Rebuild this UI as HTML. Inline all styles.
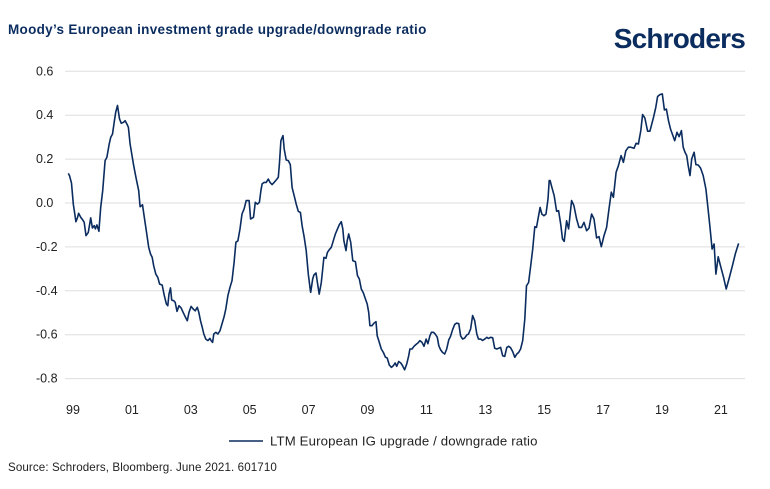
<!DOCTYPE html>
<html><head><meta charset="utf-8">
<style>
body{margin:0;background:#fff;width:770px;height:489px;overflow:hidden;font-family:"Liberation Sans",sans-serif;}
svg{display:block}
</style></head>
<body>
<svg width="770" height="489" viewBox="0 0 770 489" id="chart">
<text x="8" y="34" font-size="13.5" font-weight="bold" fill="#0b2c5f" letter-spacing="0.3">Moody’s European investment grade upgrade/downgrade ratio</text>
<text x="745" y="48" text-anchor="end" font-size="28" font-weight="bold" fill="#0b2c5f" letter-spacing="-0.8">Schroders</text>
<g id="grid"></g><g id="yt"></g><g id="xt"></g><g id="ln"></g>
<line x1="229" y1="441" x2="263" y2="441" stroke="#0b2c5f" stroke-width="1.6"/>
<text x="270" y="445.5" font-size="13.2" fill="#222" letter-spacing="0.15">LTM European IG upgrade / downgrade ratio</text>
<text x="8" y="471" font-size="11.6" fill="#222" letter-spacing="0.1">Source: Schroders, Bloomberg. June 2021. 601710</text>
</svg>
<script>
const yTicks=[0.6,0.4,0.2,0,-0.2,-0.4,-0.6,-0.8];
const yTickLabels=["0.6","0.4","0.2","0.0","-0.2","-0.4","-0.6","-0.8"];
const xTicks=[1999,2001,2003,2005,2007,2009,2011,2013,2015,2017,2019,2021];
const xTickLabels=["99","01","03","05","07","09","11","13","15","17","19","21"];
const dates=[1998.84,1998.88,1998.95,1999.01,1999.06,1999.10,1999.15,1999.19,1999.26,1999.33,1999.38,1999.44,1999.52,1999.60,1999.66,1999.72,1999.76,1999.81,1999.88,1999.94,2000.01,2000.09,2000.15,2000.23,2000.28,2000.34,2000.40,2000.45,2000.51,2000.58,2000.64,2000.72,2000.77,2000.83,2000.88,2000.94,2001.06,2001.15,2001.23,2001.28,2001.36,2001.42,2001.49,2001.57,2001.63,2001.69,2001.74,2001.81,2001.88,2001.94,2002.03,2002.10,2002.17,2002.22,2002.26,2002.31,2002.35,2002.42,2002.47,2002.53,2002.60,2002.67,2002.74,2002.81,2002.88,2002.94,2003.01,2003.08,2003.15,2003.22,2003.27,2003.33,2003.39,2003.44,2003.51,2003.58,2003.65,2003.69,2003.74,2003.78,2003.85,2003.92,2003.99,2004.06,2004.13,2004.19,2004.26,2004.33,2004.40,2004.47,2004.53,2004.60,2004.67,2004.74,2004.81,2004.88,2004.92,2004.98,2005.03,2005.13,2005.19,2005.26,2005.33,2005.38,2005.42,2005.49,2005.56,2005.63,2005.69,2005.76,2005.83,2005.90,2005.97,2006.01,2006.06,2006.13,2006.17,2006.24,2006.31,2006.38,2006.44,2006.51,2006.58,2006.65,2006.72,2006.78,2006.85,2006.92,2006.99,2007.06,
2007.07,2007.14,2007.18,2007.25,2007.30,2007.36,2007.43,2007.48,2007.52,2007.59,2007.64,2007.70,2007.77,2007.84,2007.91,2007.98,2008.04,2008.11,2008.16,2008.20,2008.27,2008.31,2008.36,2008.43,2008.50,2008.59,2008.66,2008.72,2008.79,2008.86,2008.93,2008.99,2009.04,2009.08,2009.15,2009.22,2009.29,2009.33,2009.40,2009.47,2009.54,2009.61,2009.67,2009.74,2009.81,2009.88,2009.94,2009.99,2010.06,2010.13,2010.19,2010.26,2010.33,2010.40,2010.44,2010.51,2010.58,2010.65,2010.71,2010.78,2010.85,2010.92,2010.99,2011.05,2011.12,2011.17,2011.24,2011.30,2011.37,2011.42,2011.48,2011.55,2011.62,2011.69,2011.76,2011.82,2011.89,2011.96,2012.03,2012.10,2012.16,2012.23,2012.30,2012.37,2012.43,2012.50,2012.57,2012.64,2012.71,2012.77,2012.84,2012.91,2012.98,2013.05,2013.11,2013.18,2013.25,2013.32,2013.39,2013.45,2013.52,2013.59,2013.66,2013.73,2013.79,2013.86,2013.93,2014.00,2014.07,2014.13,2014.20,2014.27,2014.34,2014.40,2014.47,2014.54,2014.61,2014.68,2014.74,2014.81,2014.86,2014.92,2014.99,2015.06,2015.13,2015.17,
2015.20,2015.26,2015.34,2015.42,2015.49,2015.56,2015.62,2015.68,2015.76,2015.83,2015.93,2016.01,2016.10,2016.18,2016.27,2016.35,2016.44,2016.52,2016.61,2016.69,2016.78,2016.86,2016.94,2017.03,2017.12,2017.20,2017.28,2017.35,2017.44,2017.52,2017.61,2017.69,2017.77,2017.86,2017.94,2018.05,2018.12,2018.20,2018.28,2018.34,2018.42,2018.51,2018.59,2018.71,2018.79,2018.85,2018.93,2019.01,2019.08,2019.15,2019.22,2019.29,2019.37,2019.43,2019.51,2019.58,2019.66,2019.72,2019.78,2019.84,2019.89,2019.95,2020.01,2020.09,2020.15,2020.23,2020.31,2020.40,2020.49,2020.56,2020.63,2020.70,2020.77,2020.83,2020.91,2021.00,2021.09,2021.18,2021.29,2021.39,2021.49,2021.60];
const ratio=[0.135,0.125,0.09,-0.005,-0.05,-0.085,-0.068,-0.047,-0.065,-0.077,-0.088,-0.149,-0.134,-0.068,-0.114,-0.103,-0.118,-0.100,-0.129,-0.020,0.056,0.193,0.208,0.269,0.299,0.314,0.368,0.413,0.444,0.383,0.363,0.368,0.375,0.360,0.345,0.269,0.170,0.109,0.056,-0.017,-0.008,-0.065,-0.126,-0.202,-0.232,-0.248,-0.286,-0.324,-0.339,-0.369,-0.374,-0.422,-0.460,-0.468,-0.415,-0.387,-0.442,-0.445,-0.453,-0.494,-0.468,-0.478,-0.498,-0.518,-0.536,-0.498,-0.471,-0.483,-0.491,-0.475,-0.498,-0.536,-0.567,-0.597,-0.620,-0.627,-0.617,-0.627,-0.635,-0.597,-0.589,-0.597,-0.582,-0.551,-0.518,-0.483,-0.422,-0.384,-0.354,-0.270,-0.179,-0.172,-0.118,-0.050,-0.027,0.011,0.011,0.011,-0.073,-0.065,0.003,-0.005,0.003,0.056,0.087,0.094,0.094,0.109,0.094,0.084,0.094,0.105,0.117,0.178,0.284,0.307,0.246,0.196,0.193,0.175,0.071,0.033,-0.005,-0.038,-0.043,-0.103,-0.156,-0.217,-0.324,-0.400,
-0.407,-0.346,-0.328,-0.319,-0.362,-0.415,-0.362,-0.301,-0.248,-0.252,-0.225,-0.213,-0.202,-0.172,-0.141,-0.118,-0.100,-0.085,-0.118,-0.172,-0.217,-0.172,-0.141,-0.179,-0.263,-0.267,-0.331,-0.346,-0.392,-0.410,-0.437,-0.460,-0.498,-0.559,-0.559,-0.547,-0.541,-0.605,-0.635,-0.665,-0.681,-0.703,-0.706,-0.738,-0.749,-0.741,-0.729,-0.744,-0.722,-0.729,-0.741,-0.760,-0.734,-0.696,-0.665,-0.665,-0.653,-0.644,-0.638,-0.627,-0.635,-0.653,-0.620,-0.641,-0.605,-0.589,-0.589,-0.597,-0.612,-0.650,-0.668,-0.681,-0.688,-0.665,-0.623,-0.608,-0.577,-0.553,-0.547,-0.550,-0.605,-0.620,-0.615,-0.602,-0.597,-0.574,-0.513,-0.536,-0.597,-0.620,-0.620,-0.626,-0.620,-0.612,-0.617,-0.612,-0.614,-0.662,-0.665,-0.662,-0.658,-0.696,-0.699,-0.658,-0.653,-0.659,-0.677,-0.703,-0.688,-0.681,-0.665,-0.627,-0.529,-0.377,-0.362,-0.286,-0.210,-0.108,-0.111,-0.058,-0.020,-0.050,-0.058,-0.050,0.018,0.102,
0.102,0.071,0.033,-0.038,-0.035,-0.096,-0.164,-0.175,-0.081,-0.118,0.011,-0.012,-0.073,-0.111,-0.111,-0.088,-0.126,-0.115,-0.050,-0.073,-0.159,-0.153,-0.199,-0.149,-0.111,-0.027,0.049,0.026,0.140,0.170,0.216,0.185,0.238,0.254,0.254,0.249,0.272,0.269,0.330,0.403,0.387,0.327,0.327,0.390,0.436,0.485,0.494,0.497,0.424,0.428,0.375,0.337,0.307,0.284,0.322,0.302,0.330,0.254,0.231,0.216,0.170,0.125,0.201,0.231,0.175,0.173,0.159,0.125,0.064,-0.020,-0.111,-0.210,-0.187,-0.324,-0.245,-0.293,-0.339,-0.392,-0.339,-0.286,-0.232,-0.184];

const NS='http://www.w3.org/2000/svg';
const xS=d=>73+(d-1999)*29.45;
const yS=v=>203-v*219.5;
function mk(tag,attrs,parent){const e=document.createElementNS(NS,tag);for(const k in attrs)e.setAttribute(k,attrs[k]);document.getElementById(parent).appendChild(e);return e;}
yTicks.forEach((t,i)=>{
  const g=mk('line',{x1:65,x2:745,y1:yS(t),y2:yS(t),stroke:'#dedede','stroke-width':1},'grid');
  
  
  const l=mk('text',{x:36,y:yS(t)+4,'font-size':12.5,fill:'#222'},'yt');
  l.textContent=yTickLabels[i];
  
  
});
xTicks.forEach((t,i)=>{
  const l=mk('text',{x:xS(t),y:414,'font-size':12.5,fill:'#222','text-anchor':'middle'},'xt');
  l.textContent=xTickLabels[i];
  
  
});
const p=mk('path',{d:dates.map((d,i)=>(i?'L':'M')+xS(d).toFixed(1)+','+yS(ratio[i]).toFixed(1)).join(''),fill:'none',stroke:'#0b2c5f','stroke-width':1.6,'stroke-linejoin':'round'},'ln');


</script>
</body></html>
